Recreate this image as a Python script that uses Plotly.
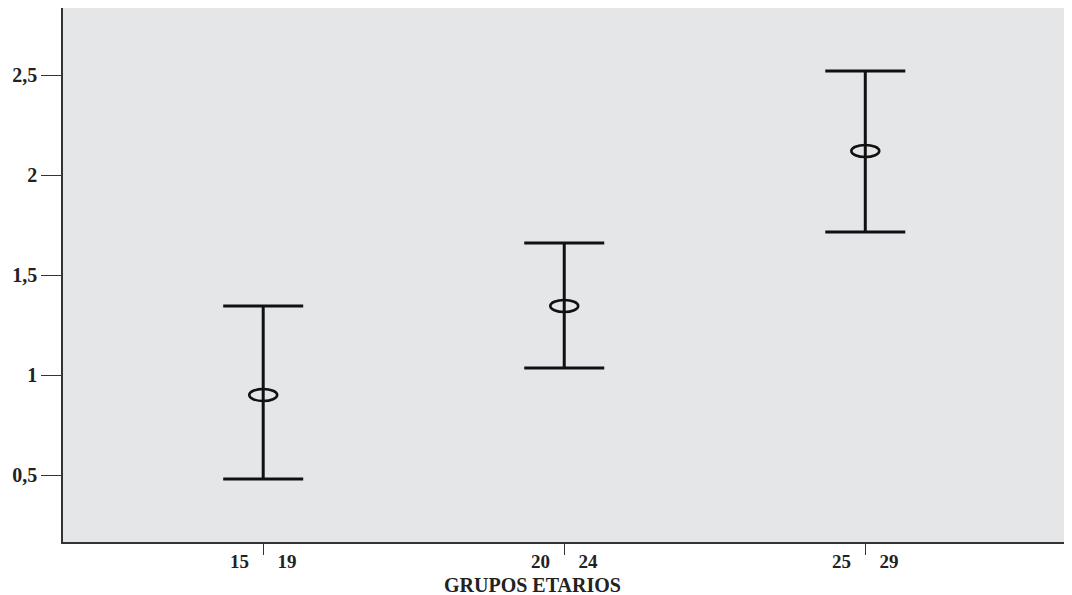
import plotly.graph_objects as go

# Data
categories = ["15 – 19", "20 – 24", "25 – 29"]
tick_labels = ["15\u00a0\u00a0\u00a0\u00a0\u00a0\u00a019", "20\u00a0\u00a0\u00a0\u00a0\u00a0\u00a024", "25\u00a0\u00a0\u00a0\u00a0\u00a0\u00a029"]
means = [0.90, 1.345, 2.12]
upper = [1.345, 1.66, 2.52]
lower = [0.48, 1.035, 1.715]
y_ticks = [0.5, 1, 1.5, 2, 2.5]
y_tick_labels = ["0,5", "1", "1,5", "2", "2,5"]

xpos = list(range(len(categories)))

fig = go.Figure()
fig.add_trace(go.Scatter(
    x=xpos, y=means, mode="markers",
    marker=dict(size=1, color="rgba(0,0,0,0)"),
    error_y=dict(type="data", symmetric=False,
                 array=[u - m for u, m in zip(upper, means)],
                 arrayminus=[m - l for m, l in zip(means, lower)],
                 color="#111111", thickness=3, width=40),
    showlegend=False, hoverinfo="skip",
))

for x, m in zip(xpos, means):
    fig.add_shape(type="circle", xref="x", yref="y",
                  xsizemode="pixel", ysizemode="pixel",
                  xanchor=x, yanchor=m, x0=-14, x1=14, y0=-6, y1=6,
                  line=dict(color="#111111", width=2.5), layer="above")

font_family = "Liberation Serif, DejaVu Serif, serif"

fig.update_layout(
    width=1064, height=587,
    margin=dict(l=55, r=2, t=0, b=53),
    paper_bgcolor="white", plot_bgcolor="#e5e6e8",
    font=dict(family=font_family, color="#222222", size=19),
    xaxis=dict(range=[-0.665, 2.68], tickvals=xpos, ticktext=tick_labels,
               ticks="outside", ticklen=11, tickwidth=1.2, tickcolor="#333333",
               ticklabelstandoff=-10, automargin=False,
               showgrid=False, zeroline=False, showline=True, linecolor="#333333",
               linewidth=1.5, mirror=True,
               tickfont=dict(family=font_family, size=19, color="#222222", weight="bold")),
    yaxis=dict(range=[0.165, 2.835], tickvals=y_ticks, ticktext=y_tick_labels,
               ticks="outside", ticklen=20, tickwidth=1.2, tickcolor="#333333",
               automargin=False,
               showgrid=False, zeroline=False, showline=True, linecolor="#333333",
               linewidth=1.5, mirror=True,
               tickfont=dict(family=font_family, size=20, color="#222222", weight="bold")),
)

fig.add_annotation(text="GRUPOS ETARIOS", xref="paper", yref="paper",
                   x=(524 - 55) / 1007, y=-(577 - 534) / 534, showarrow=False,
                   xanchor="center", yanchor="middle",
                   font=dict(family=font_family, size=20, color="#222222", weight="bold"))

fig.write_html("out.html")
